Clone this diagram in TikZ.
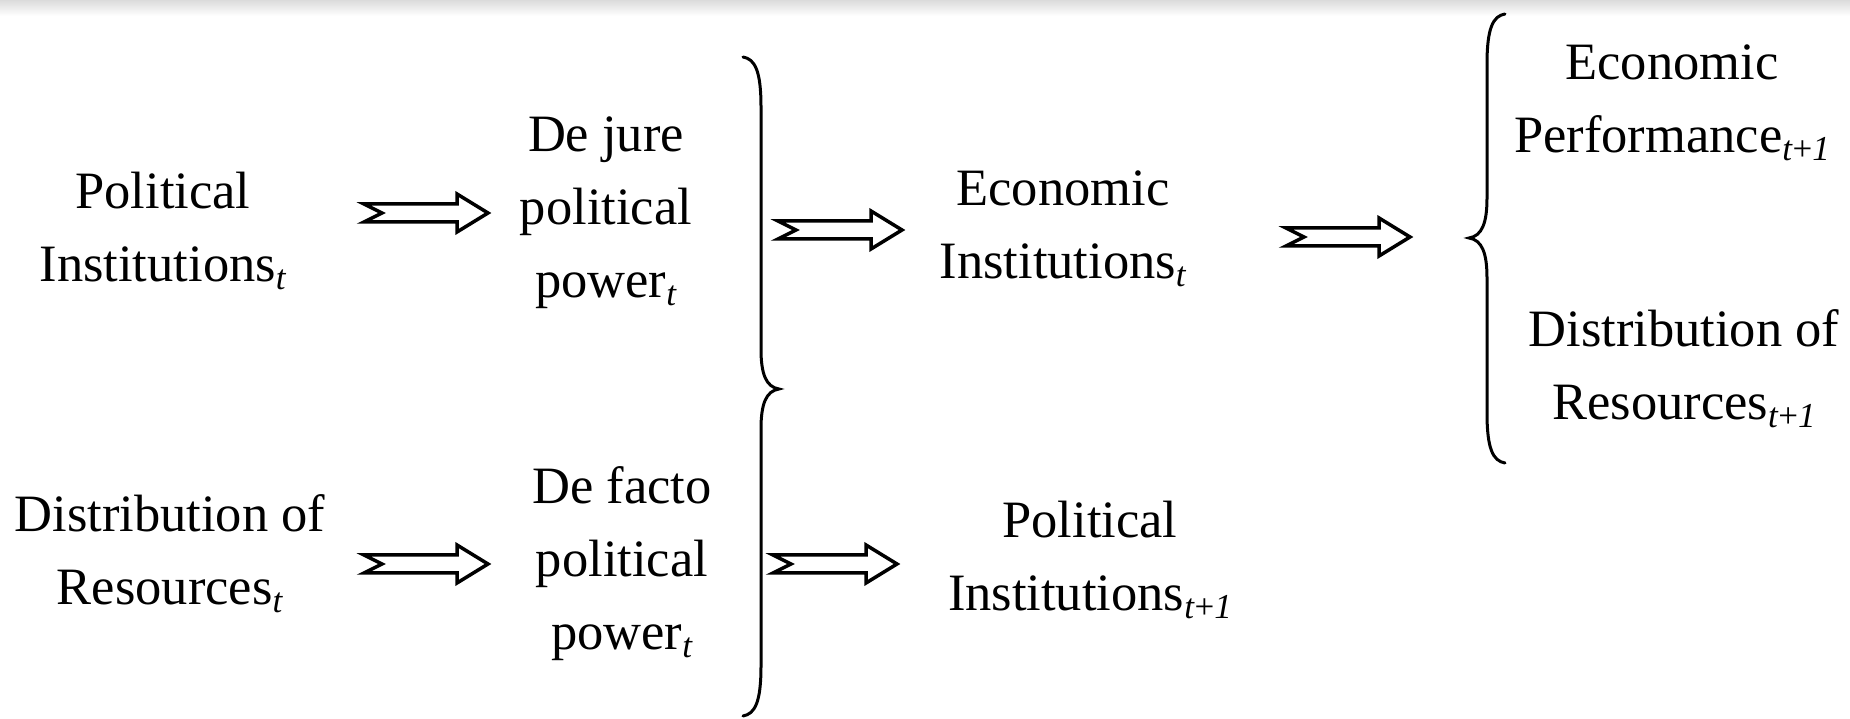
\documentclass[tikz,border=0pt]{standalone}
\usepackage{fontspec}
\setmainfont{Liberation Serif}
\usetikzlibrary{calc,positioning}

\newcommand{\tnow}{\raisebox{-8pt}{\fontsize{35}{35}\selectfont\textit{t}}}
\newcommand{\tnext}{\raisebox{-8pt}{\fontsize{35}{35}\selectfont\textit{t}+\textit{1}}}

\begin{document}
\begin{tikzpicture}[x=1pt,y=1pt,node distance=450pt,
    main node/.style={align=center,inner sep=0pt,font=\fontsize{52.5}{73}\selectfont,
        execute at begin node=\strut,execute at end node=\strut},
    fat arrow/.style={line width=3.5pt,line join=miter,
        to path={($(\tikztostart)+(0,9)$) -- ($(\tikztostart)+(18,0)$) -- ($(\tikztostart)+(0,-9)$)
            -- ($(\tikztotarget)+(-31,-9)$) -- ($(\tikztotarget)+(-31,-19)$) -- (\tikztotarget)
            -- ($(\tikztotarget)+(-31,19)$) -- ($(\tikztotarget)+(-31,9)$) -- cycle}},
    brace line/.style={line width=3pt,line cap=round}]
            \useasboundingbox (0,0) rectangle (1850,719);
            \shade[top color=black!14,bottom color=white] (0,703) rectangle (1850,719);

            \node[main node] (1) at (163,481.6) {Political\\Institutions\tnow};
            \node[main node] (2) [right of = 1, xshift = -7, yshift = 19] {De jure\\political\\power\tnow};
            \node[main node] (3) [right of = 2, xshift = 7, yshift = -17] {Economic\\Institutions\tnow};
            \node[main node] (4) [right of = 3, xshift = 159, yshift = 125.5] {Economic\\Performance\tnext};

            \node[main node] (5) [below of = 1, xshift = 7, yshift = 127] {Distribution of\\Resources\tnow};
            \node[main node] (6) [right of = 5, xshift = 2, yshift = -8.5] {De facto\\political\\power\tnow};
            \node[main node] (7) [right of = 6, xshift = 18, yshift = 2.5] {Political\\Institutions\tnext};
            \node[main node] (8) [below of = 4, xshift = 12, yshift = 184.5] {Distribution of\\Resources\tnext};

            % arrow ends
            \coordinate (a1) at (364,506);  \coordinate (b1) at (488,506);
            \coordinate (a2) at (778,489);  \coordinate (b2) at (902,489);
            \coordinate (a3) at (1286,482); \coordinate (b3) at (1410,482);
            \coordinate (a4) at (364,155);  \coordinate (b4) at (488,155);
            \coordinate (a5) at (773,155);  \coordinate (b5) at (897,155);

            \path[draw,fat arrow]
                (a1) to (b1)
                (a2) to (b2)
                (a3) to (b3)
                (a4) to (b4)
                (a5) to (b5)
                ;

            % braces
            \draw[brace line] (743,662) .. controls (755,660) and (761,648) .. (761,612) -- (761,370)
                .. controls (761,345) and (766,332) .. (779,330) .. controls (766,328) and (761,315) .. (761,290)
                -- (761,53) .. controls (761,17) and (755,5) .. (743,3);
            \draw[brace line] (1505,705) .. controls (1493,703) and (1487,691) .. (1487,655) -- (1487,521)
                .. controls (1487,496) and (1482,483) .. (1469,481) .. controls (1482,479) and (1487,466) .. (1487,441)
                -- (1487,306) .. controls (1487,270) and (1493,258) .. (1505,256);
        \end{tikzpicture}
\end{document}
